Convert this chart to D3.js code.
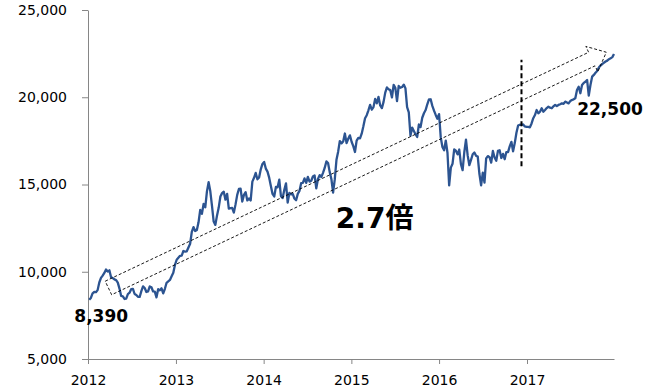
<!DOCTYPE html>
<html>
<head>
<meta charset="utf-8">
<script src="https://cdn.jsdelivr.net/npm/d3@7"></script>
<style>
  body { margin: 0; background: #fff; }
  svg text { font-family: "DejaVu Sans", Verdana, "Noto Sans CJK JP", sans-serif; }
</style>
</head>
<body>
<div id="chart"></div>
<script>
let width = 650;
let height = 390;
let margin = ({top: 10, right: 36, bottom: 31, left: 88});
let lineColor = "#2C5491";
let axisColor = "#868686";

// weekly closes, first week ends 2012-01-06
let firstWeek = "2012-01-06";
let values2012 = [8390, 8500, 8766, 8841, 8831, 8947, 9384, 9647, 9777, 9929, 10129, 10011, 10083,
  9688, 9637, 9561, 9520, 9380, 9035, 8611, 8593, 8440, 8459, 8721, 8798, 9007,
  9020, 8724, 8670, 8567, 8555, 8891, 9163, 9071, 8840, 8872, 9159, 9110, 8870,
  8863, 8534, 9003, 8933, 9051, 8757, 9024, 9366, 9446, 9528, 9737, 9940, 10395];
let values2013 = [10688, 10801, 10913, 10926, 11191, 11153, 11173, 11386, 11606, 12283, 12560, 12338, 12398,
  12834, 13549, 13317, 13884, 13694, 14608, 15138, 14612, 13775, 12877, 12686, 13230, 13677,
  14310, 14506, 14589, 14130, 14467, 13615, 13650, 13661, 13389, 13861, 14405, 14743, 14760,
  14025, 14405, 14562, 14088, 14202, 14086, 15166, 15382, 15662, 15300, 15404, 15870, 16178];
let values2014 = [16291, 15912, 15735, 15391, 14915, 14462, 14313, 14866, 14841, 15274, 14327, 14224, 14696,
  15063, 13960, 14516, 14429, 14458, 14199, 14097, 14462, 14632, 15077, 15097, 15349, 15095,
  15437, 15164, 15215, 15457, 15524, 14778, 15318, 15539, 15425, 15669, 15948, 16321, 16229,
  15709, 15300, 14533, 15291, 16414, 16881, 17490, 17358, 17460, 17921, 17371, 17621, 17818];
let values2015 = [17451, 17198, 16864, 17511, 17674, 17649, 17913, 18332, 18798, 18971, 19254, 19560, 19286,
  19435, 19908, 19653, 20020, 19532, 19379, 19733, 20264, 20563, 20461, 20408, 19991, 20706,
  20540, 19780, 20650, 20545, 20585, 20725, 20520, 19436, 19136, 17792, 18264, 18070, 17880,
  17725, 18438, 18291, 18826, 19083, 19265, 19597, 19880, 19884, 19504, 19231, 18986, 18770];
let values2016 = [19034, 17698, 17147, 16959, 17518, 16820, 14953, 15967, 16188, 17015, 16939, 16725, 17003,
  16164, 15822, 16849, 17572, 16666, 16106, 16412, 16736, 16835, 16642, 16601, 15600, 14952,
  15682, 15107, 16497, 16627, 16569, 16254, 16920, 16546, 16361, 16926, 16965, 16519, 16754, 16450,
  16860, 16856, 17185, 17446, 16905, 17374, 17968, 18381, 18426, 18410, 18440, 18330, 18300];
let values2017 = [18300, 18280, 18500, 18800, 18980, 19270, 19080, 19170, 19370, 19170, 19270, 19380, 19460,
  19400, 19370, 19480, 19560, 19500, 19560, 19600, 19650, 19620, 19750, 19700, 19650, 19780,
  19840, 19880, 19940, 20410, 20600, 20230, 20700, 20820, 20890, 20990, 20100, 20700, 21180,
  21280, 21400, 21500, 21700, 21820, 21900, 21980, 22050, 22100, 22180, 22230, 22300, 22480];

let yearTicks = [2012, 2013, 2014, 2015, 2016, 2017];
let yTicks = [5000, 10000, 15000, 20000, 25000];

// annotations
let markerDate = "2016-12-09";
let markerRange = [16050, 22150];
let arrowTail = {date: "2012-03-26", value: 9070};
let arrowTip = {date: "2017-11-27", value: 22580};
let ratioLabel = {text: "2.7倍", date: "2015-04-08", value: 12500};
let startLabel = "8,390";
let endLabel = "22,500";

let parse = d3.utcParse("%Y-%m-%d");
let start = parse(firstWeek);
let values = [].concat(values2012, values2013, values2014, values2015, values2016, values2017);
let data = values.map((v, i) => ({date: d3.utcDay.offset(start, 7 * i), value: v}));

let x = d3.scaleUtc()
    .domain([new Date(Date.UTC(2012, 0, 1)), new Date(Date.UTC(2017, 11, 29))])
    .range([margin.left, width - margin.right]);
let y = d3.scaleLinear()
    .domain([5000, 25000])
    .range([height - margin.bottom, margin.top]);

let svg = d3.select("#chart")
    .append("svg")
    .attr("width", width)
    .attr("height", height)
    .attr("viewBox", [0, 0, width, height]);

let xAxis = g => g
    .attr("transform", `translate(0,${height - margin.bottom})`)
    .call(d3.axisBottom(x)
        .tickValues(yearTicks.map(yr => new Date(Date.UTC(yr, 0, 1))))
        .tickFormat(d3.utcFormat("%Y"))
        .tickSize(5).tickSizeOuter(0).tickPadding(11));
let yAxis = g => g
    .attr("transform", `translate(${margin.left},0)`)
    .call(d3.axisLeft(y)
        .tickValues(yTicks)
        .tickFormat(d3.format(","))
        .tickSize(6).tickSizeOuter(0).tickPadding(15));

svg.append("g").call(xAxis);
svg.append("g").call(yAxis);
svg.selectAll(".domain, .tick line").attr("stroke", axisColor);
svg.selectAll(".tick text")
    .attr("fill", "#000")
    .attr("font-size", 14)
    .attr("font-family", "DejaVu Sans, Verdana, sans-serif");

// index line
svg.append("path")
    .datum(data)
    .attr("fill", "none")
    .attr("stroke", lineColor)
    .attr("stroke-width", 2.3)
    .attr("stroke-linejoin", "round")
    .attr("d", d3.line().x(d => x(d.date)).y(d => y(d.value)));

// vertical dashed marker
svg.append("line")
    .attr("x1", x(parse(markerDate))).attr("x2", x(parse(markerDate)))
    .attr("y1", y(markerRange[0])).attr("y2", y(markerRange[1]))
    .attr("stroke", "#000")
    .attr("stroke-width", 2)
    .attr("stroke-dasharray", "5,3");

// hollow block arrow along the trend
let p0 = [x(parse(arrowTail.date)), y(arrowTail.value)];
let p1 = [x(parse(arrowTip.date)), y(arrowTip.value)];
let len = Math.hypot(p1[0] - p0[0], p1[1] - p0[1]);
let u = [(p1[0] - p0[0]) / len, (p1[1] - p0[1]) / len];
let n = [u[1], -u[0]];
let shaft = 7.5, headLen = 16, headW = 14;
let pt = (a, p) => [p0[0] + a * u[0] + p * n[0], p0[1] + a * u[1] + p * n[1]];
let arrowPts = [pt(0, shaft), pt(len - headLen, shaft), pt(len - headLen, headW), pt(len, 0),
    pt(len - headLen, -headW), pt(len - headLen, -shaft), pt(0, -shaft)];
svg.append("path")
    .attr("d", d3.line()(arrowPts) + "Z")
    .attr("fill", "none")
    .attr("stroke", "#000")
    .attr("stroke-width", 0.9)
    .attr("stroke-dasharray", "3,2");

// labels
let first = data[0], last = data[data.length - 1];
svg.append("text")
    .attr("x", x(first.date) + 12)
    .attr("y", y(first.value) + 22)
    .attr("text-anchor", "middle")
    .attr("font-size", 17)
    .attr("font-weight", "bold")
    .text(startLabel);
svg.append("text")
    .attr("x", x(last.date) - 4)
    .attr("y", y(last.value) + 61)
    .attr("text-anchor", "middle")
    .attr("font-size", 17)
    .attr("font-weight", "bold")
    .text(endLabel);
svg.append("text")
    .attr("x", x(parse(ratioLabel.date)))
    .attr("y", y(ratioLabel.value))
    .attr("text-anchor", "middle")
    .attr("font-size", 28)
    .attr("font-weight", "bold")
    .text(ratioLabel.text);
</script>
</body>
</html>
